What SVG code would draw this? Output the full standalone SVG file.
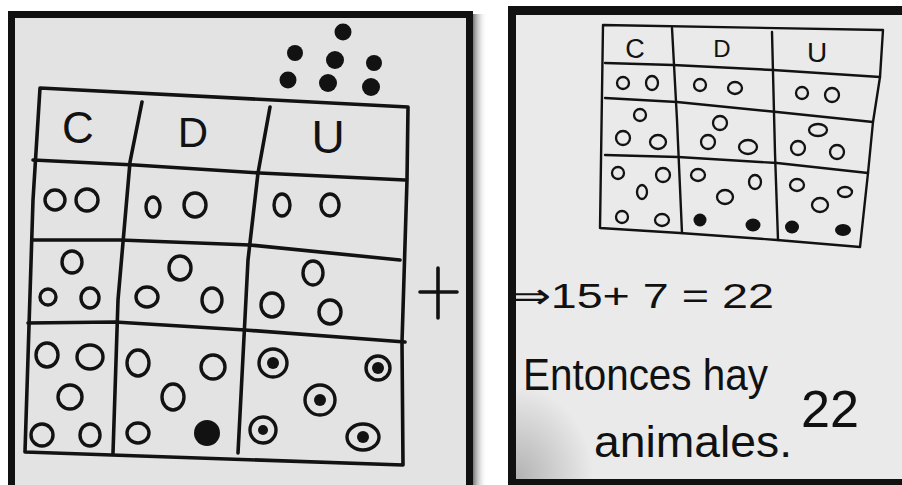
<svg xmlns="http://www.w3.org/2000/svg" width="902" height="485" viewBox="0 0 902 485">
<defs>
<style>
.g{fill:none;stroke:#121212;stroke-linecap:round;stroke-linejoin:round}
.gl{stroke-width:3.6}
.gr{stroke-width:2.4}
.c{fill:none;stroke:#121212;stroke-width:3.4}
.cs{fill:none;stroke:#121212;stroke-width:2.3}
.f{fill:#121212}
.hd{font-family:"Liberation Sans",Arial,sans-serif;fill:#121212;text-anchor:middle}
.tx{font-family:"Liberation Sans",Arial,sans-serif;fill:#111}
</style>
<linearGradient id="shadow" x1="0" y1="0" x2="1" y2="0">
<stop offset="0" stop-color="#777"/>
<stop offset="1" stop-color="#fff" stop-opacity="0"/>
</linearGradient>
<radialGradient id="vig" cx="0" cy="1" r="0.2">
<stop offset="0" stop-color="#9a9a9a" stop-opacity="0.7"/>
<stop offset="1" stop-color="#9a9a9a" stop-opacity="0"/>
</radialGradient>
</defs>
<rect width="902" height="485" fill="#fff"/>

<g id="left-panel">
<rect x="473" y="14" width="14" height="471" fill="url(#shadow)"/>
<rect x="8" y="11" width="465" height="480" fill="#111"/>
<rect x="15" y="18" width="451" height="470" fill="#e3e3e3"/>
</g>

<g id="right-panel">
<rect x="508" y="6" width="394" height="479" fill="#111"/>
<rect x="516" y="15" width="386" height="464" fill="#eaeaea"/>
<rect x="516" y="15" width="386" height="464" fill="url(#vig)"/>
</g>

<g id="left-grid">
<path class="g gl" d="M40,88 L408,107 L407,180 L402,342 L403,465 L25,452 L33,200 Z"/>
<path class="g gl" d="M33,160 L135,165 L260,173 L405,180"/>
<path class="g gl" d="M32,240 L120,240 L250,245 L400,260"/>
<path class="g gl" d="M28,323 L115,322 L245,330 L405,342"/>
<path class="g gl" d="M142,102 L130,162 L118,300 L113,453"/>
<path class="g gl" d="M270,107 L258,173 L248,260 L238,453"/>
<text class="hd" x="78" y="143" font-size="44">C</text>
<text class="hd" x="193" y="147" font-size="42">D</text>
<text class="hd" x="328" y="153" font-size="46">U</text>
</g>

<g id="left-dots">
<circle class="f" cx="343" cy="32" r="8.5"/>
<circle class="f" cx="295" cy="53" r="8"/>
<circle class="f" cx="335" cy="60" r="9"/>
<circle class="f" cx="374" cy="63" r="8"/>
<circle class="f" cx="288" cy="80" r="8.5"/>
<circle class="f" cx="328" cy="83" r="9"/>
<circle class="f" cx="371" cy="87" r="9"/>
</g>

<g id="left-circles">
<ellipse class="c" cx="55" cy="200" rx="10" ry="10"/>
<ellipse class="c" cx="87" cy="200" rx="11" ry="11"/>
<ellipse class="c" cx="153" cy="207" rx="7" ry="10"/>
<ellipse class="c" cx="195" cy="205" rx="11" ry="12"/>
<ellipse class="c" cx="282" cy="205" rx="8" ry="11"/>
<ellipse class="c" cx="330" cy="205" rx="9" ry="11"/>

<ellipse class="c" cx="72" cy="262" rx="10" ry="11"/>
<ellipse class="c" cx="48" cy="297" rx="8" ry="8"/>
<ellipse class="c" cx="90" cy="298" rx="9" ry="10"/>
<ellipse class="c" cx="180" cy="268" rx="11" ry="12"/>
<ellipse class="c" cx="147" cy="297" rx="11" ry="10"/>
<ellipse class="c" cx="212" cy="300" rx="10" ry="12"/>
<ellipse class="c" cx="313" cy="273" rx="10" ry="12"/>
<ellipse class="c" cx="272" cy="305" rx="11" ry="12"/>
<ellipse class="c" cx="330" cy="312" rx="11" ry="12"/>

<ellipse class="c" cx="47" cy="355" rx="11" ry="12"/>
<ellipse class="c" cx="90" cy="357" rx="13" ry="12"/>
<ellipse class="c" cx="70" cy="397" rx="12" ry="12"/>
<ellipse class="c" cx="42" cy="435" rx="11" ry="11"/>
<ellipse class="c" cx="90" cy="435" rx="10" ry="11"/>
<ellipse class="c" cx="138" cy="363" rx="11" ry="13"/>
<ellipse class="c" cx="213" cy="367" rx="12" ry="12"/>
<ellipse class="c" cx="173" cy="397" rx="11" ry="13"/>
<ellipse class="c" cx="138" cy="433" rx="11" ry="10"/>
<circle class="f" cx="207" cy="433" r="13"/>

<circle class="c" cx="273" cy="363" r="14"/>
<circle class="f" cx="273" cy="363" r="6"/>
<circle class="c" cx="378" cy="368" r="12"/>
<circle class="f" cx="378" cy="368" r="6"/>
<circle class="c" cx="320" cy="400" r="15"/>
<circle class="f" cx="320" cy="400" r="6"/>
<circle class="c" cx="263" cy="430" r="13"/>
<circle class="f" cx="263" cy="430" r="5"/>
<ellipse class="c" cx="363" cy="437" rx="16" ry="13"/>
<circle class="f" cx="363" cy="437" r="6"/>
</g>

<g id="plus">
<path class="g gl" d="M420,292 L457,292 M438,268 L438,318"/>
</g>

<g id="right-grid">
<path class="g gr" d="M603,25 L883,30 L880,77 L873,122 L868,173 L860,247 L777,240 L680,233 L600,228 Z"/>
<path class="g gr" d="M605,63 L673,65 L773,70 L880,77"/>
<path class="g gr" d="M605,98 L677,102 L777,112 L873,122"/>
<path class="g gr" d="M605,155 L678,157 L777,163 L868,173"/>
<path class="g gr" d="M672,28 L677,120 L682,233"/>
<path class="g gr" d="M772,32 L775,153 L778,240"/>
<text class="hd" x="635" y="58" font-size="27">C</text>
<text class="hd" x="722" y="57" font-size="24">D</text>
<text class="hd" x="817" y="62" font-size="28">U</text>
</g>

<g id="right-circles">
<ellipse class="cs" cx="623" cy="83" rx="6" ry="6"/>
<ellipse class="cs" cx="652" cy="83" rx="6" ry="7"/>
<ellipse class="cs" cx="700" cy="85" rx="6" ry="6"/>
<ellipse class="cs" cx="735" cy="88" rx="7" ry="6"/>
<ellipse class="cs" cx="802" cy="93" rx="6" ry="6"/>
<ellipse class="cs" cx="832" cy="95" rx="7" ry="7"/>

<ellipse class="cs" cx="640" cy="115" rx="6" ry="6"/>
<ellipse class="cs" cx="623" cy="138" rx="7" ry="7"/>
<ellipse class="cs" cx="658" cy="142" rx="8" ry="7"/>
<ellipse class="cs" cx="720" cy="123" rx="7" ry="7"/>
<ellipse class="cs" cx="708" cy="142" rx="7" ry="7"/>
<ellipse class="cs" cx="748" cy="147" rx="9" ry="7"/>
<ellipse class="cs" cx="818" cy="130" rx="9" ry="6"/>
<ellipse class="cs" cx="798" cy="148" rx="7" ry="7"/>
<ellipse class="cs" cx="837" cy="152" rx="7" ry="7"/>

<ellipse class="cs" cx="618" cy="173" rx="6" ry="6"/>
<ellipse class="cs" cx="663" cy="175" rx="7" ry="7"/>
<ellipse class="cs" cx="642" cy="192" rx="5" ry="7"/>
<ellipse class="cs" cx="622" cy="217" rx="6" ry="6"/>
<ellipse class="cs" cx="662" cy="220" rx="7" ry="6"/>
<ellipse class="cs" cx="698" cy="175" rx="7" ry="6"/>
<ellipse class="cs" cx="755" cy="182" rx="6" ry="7"/>
<ellipse class="cs" cx="725" cy="197" rx="8" ry="7"/>
<circle class="f" cx="700" cy="220" r="6.5"/>
<ellipse class="f" cx="753" cy="225" rx="7.5" ry="6.5"/>
<ellipse class="cs" cx="797" cy="185" rx="7" ry="6"/>
<ellipse class="cs" cx="845" cy="192" rx="7" ry="5"/>
<ellipse class="cs" cx="820" cy="205" rx="8" ry="7"/>
<ellipse class="f" cx="792" cy="227" rx="7" ry="6.5"/>
<ellipse class="f" cx="843" cy="230" rx="8" ry="6"/>
</g>

<g id="right-text">
<text class="tx" x="512" y="308" font-size="35" textLength="262" lengthAdjust="spacingAndGlyphs">⇒15+ 7 = 22</text>
<text class="tx" x="523" y="390" font-size="44" textLength="245" lengthAdjust="spacingAndGlyphs">Entonces hay</text>
<text class="tx" x="801" y="427" font-size="52" textLength="58" lengthAdjust="spacingAndGlyphs">22</text>
<text class="tx" x="594" y="457" font-size="45" textLength="198" lengthAdjust="spacingAndGlyphs">animales.</text>
</g>
</svg>
